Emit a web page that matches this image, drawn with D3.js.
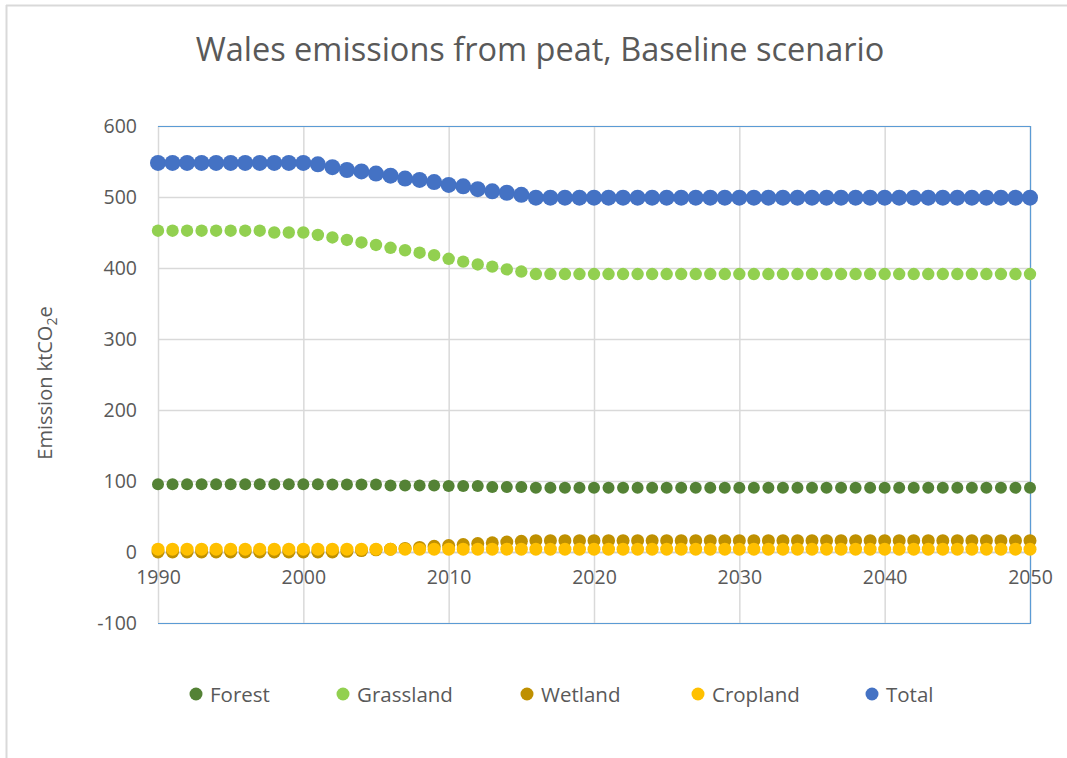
<!DOCTYPE html>
<html><head><meta charset="utf-8">
<script src="https://cdn.jsdelivr.net/npm/d3@7"></script>
<style>body{margin:0;background:#fff;font-family:"Open Sans","Liberation Sans",sans-serif;}</style>
</head><body><svg id="c" width="1067" height="758"></svg>
<script>
const years = d3.range(1990, 2051);
const forest = [95.5,95.5,95.5,95.5,95.5,95.5,95.5,95.5,95.5,95.5,95.5,95.5,95,95,95,95,93.5,93.5,93.5,93.5,93,93,93,91.5,91.5,91.5].concat(Array(35).fill(90.5));
const grassland = [452.5,452.5,452.5,452.5,452.5,452.5,452.5,452.5,450,450,450,446.5,443,439.5,436,432.5,428.5,425,421.5,418,413,409,405,402,398,395].concat(Array(35).fill(391.5));
const wetland = [0,0,0,0,0,0,0,0,0,0,0,0,0,1,2,3,4,5,6.5,8,9,10.5,12,13,14,15].concat(Array(35).fill(16));
const cropland = Array(61).fill(4);
const total = [548,548,548,548,548,548,548,548,548,548,548,546,542,538,536,533,530,526,524,521,517,515,511,508,506,503].concat(Array(35).fill(499));
const seriesNames = ["Forest","Grassland","Wetland","Cropland","Total"];
const seriesColors = ["#548235","#92D050","#BF9000","#FFC000","#4472C4"];
const seriesValues = [forest, grassland, wetland, cropland, total];
const yTicks = [-100,0,100,200,300,400,500,600];
const xTicks = [1990,2000,2010,2020,2030,2040,2050];
const titleText = "Wales emissions from peat, Baseline scenario";

const svg = d3.select("#c");
const L=158, R=1030, T=126, B=623;
const x = d3.scaleLinear().domain([1990,2050]).range([L,R]);
const y = d3.scaleLinear().domain([-100,600]).range([B,T]);
const txt = "#595959";

// outer frame
svg.append("line").attr("x1",6.5).attr("x2",6.5).attr("y1",5).attr("y2",758).attr("stroke","#d9d9d9").attr("stroke-width",2);
svg.append("line").attr("x1",6).attr("x2",1067).attr("y1",5.5).attr("y2",5.5).attr("stroke","#d9d9d9").attr("stroke-width",2);

// title
svg.append("text").attr("x",540).attr("y",61).attr("text-anchor","middle")
  .attr("fill",txt).style("font-size","32.5px").text(titleText);

// gridlines
const g = svg.append("g");
g.selectAll(".hy").data(yTicks).join("line")
  .attr("x1",L).attr("x2",R).attr("y1",d=>y(d)+0.5).attr("y2",d=>y(d)+0.5)
  .attr("stroke","#d9d9d9").attr("stroke-width",1.5);
g.selectAll(".vx").data(xTicks).join("line")
  .attr("x1",d=>x(d)+0.5).attr("x2",d=>x(d)+0.5).attr("y1",T).attr("y2",B)
  .attr("stroke","#d9d9d9").attr("stroke-width",1.5);
// zero axis line
g.append("line").attr("x1",L).attr("x2",R).attr("y1",y(0)+0.5).attr("y2",y(0)+0.5).attr("stroke","#d0d0d0").attr("stroke-width",1.5);
// plot border (blue)
g.append("path").attr("d",`M${L},${T+0.5}H${R+0.5}V${B+0.5}H${L}`).attr("fill","none").attr("stroke","#5B9BD5").attr("stroke-width",1.2);

// y axis labels
const yAxis = d3.axisLeft(y).tickValues(yTicks).tickSize(0).tickPadding(21).tickFormat(d=>String(d));
const ya = svg.append("g").attr("transform",`translate(${L},0)`).call(yAxis);
ya.select(".domain").remove();
ya.selectAll("text").attr("fill",txt).style("font-size","19.5px").style("font-family","'Open Sans',sans-serif");

// x axis labels at zero
const xAxis = d3.axisBottom(x).tickValues(xTicks).tickSize(0).tickPadding(18).tickFormat(d=>String(d));
const xa = svg.append("g").attr("transform",`translate(0,${y(0)})`).call(xAxis);
xa.select(".domain").remove();
xa.selectAll("text").attr("fill",txt).style("font-size","19.5px").style("font-family","'Open Sans',sans-serif");

// y axis title
const yt = svg.append("text").attr("transform","translate(52,383) rotate(-90)").attr("text-anchor","middle")
  .attr("fill",txt).style("font-size","20px");
yt.append("tspan").text("Emission ktCO");
yt.append("tspan").attr("dy",5).style("font-size","14px").text("2");
yt.append("tspan").attr("dy",-5).text("e");

// series
const radii = [6,6.2,6.5,6.5,8];
seriesValues.forEach((vals,i)=>{
  svg.append("g").selectAll("circle").data(vals).join("circle")
    .attr("cx",(d,j)=>x(years[j])).attr("cy",d=>y(d)).attr("r",radii[i]).attr("fill",seriesColors[i]);
});

// legend
const legX = [196,343,527,698,872];
const leg = svg.append("g");
seriesNames.forEach((n,i)=>{
  leg.append("circle").attr("cx",legX[i]).attr("cy",694).attr("r",6.5).attr("fill",seriesColors[i]);
  leg.append("text").attr("x",legX[i]+14).attr("y",702).attr("fill",txt).style("font-size","20.5px").text(n);
});
</script></body></html>
